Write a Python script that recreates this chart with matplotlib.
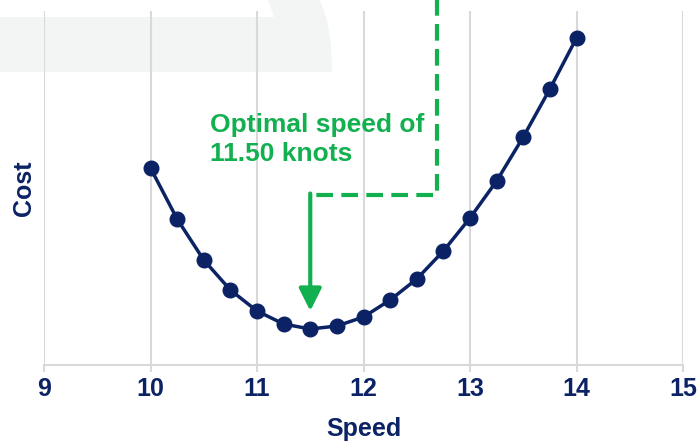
import matplotlib
matplotlib.use("Agg")
import matplotlib.pyplot as plt
from matplotlib.patches import Polygon

plt.rcParams['font.family'] = ['Liberation Sans', 'DejaVu Sans']

speed = [10, 10.25, 10.5, 10.75, 11, 11.25, 11.5, 11.75, 12, 12.25, 12.5, 12.75, 13, 13.25, 13.5, 13.75, 14]
cost = [197, 146, 105, 75, 54, 41, 36, 39, 48, 65, 86, 114, 147, 184, 228, 276, 327]
xticks = [9, 10, 11, 12, 13, 14, 15]
optimal_speed = 11.5
label_text = "Optimal speed of\n11.50 knots"

navy = "#0b2265"
green = "#12b04f"
grid = "#d9d9d9"

fig = plt.figure(figsize=(6.97, 4.42), dpi=100)

# light background shape (top-left decoration)
W, H = 697, 442
pts = [(0, 17), (274, 17), (268, 0), (320, 0), (327, 20), (331, 45), (332, 72), (0, 72)]
poly = Polygon([(x / W, 1 - y / H) for x, y in pts], closed=True,
               transform=fig.transFigure, facecolor="#f3f4f4", edgecolor="none", zorder=0)
fig.patches.append(poly)

ax = fig.add_axes([44 / W, 1 - 365 / H, (683 - 44) / W, (365 - 11) / H])
ax.set_zorder(2)
ax.set_facecolor("none")
ax.set_xlim(9, 15)
ax.set_ylim(0, 354)

ax.set_xticks(xticks)
ax.set_xticklabels([str(t) for t in xticks], fontsize=18, fontweight="bold", color=navy)
ax.set_yticks([])
ax.grid(axis="x", color=grid, linewidth=1.5, zorder=1)
ax.set_axisbelow(True)
for s in ["top", "right", "left"]:
    ax.spines[s].set_visible(False)
ax.spines["bottom"].set_color(grid)
ax.spines["bottom"].set_linewidth(1.5)
ax.tick_params(axis="x", length=5, width=1.5, color=grid, pad=4)

ax.set_xlabel("Speed", fontsize=18, fontweight="bold", color=navy, labelpad=11)
ax.set_ylabel("Cost", fontsize=18, fontweight="bold", color=navy, labelpad=6)

ax.plot(speed, cost, color=navy, linewidth=2.5, marker="o", markersize=10.5, zorder=5)

# annotation: dashed path + arrow
y_corner = 170
x_dash = 12.69
ax.plot([x_dash, x_dash, optimal_speed], [370, y_corner, y_corner], color=green,
        linewidth=3, linestyle=(0, (4, 2)), clip_on=False, zorder=4)
ax.annotate("", xy=(optimal_speed, 54), xytext=(optimal_speed, y_corner + 1.5),
            arrowprops=dict(arrowstyle="-|>", lw=3, color=green, mutation_scale=34,
                            shrinkA=0, shrinkB=0), zorder=4)
ax.text(10.56, 199, label_text, fontsize=19, fontweight="bold", color=green,
        ha="left", va="bottom", linespacing=1.24)

fig.savefig("out.png", dpi=100)
